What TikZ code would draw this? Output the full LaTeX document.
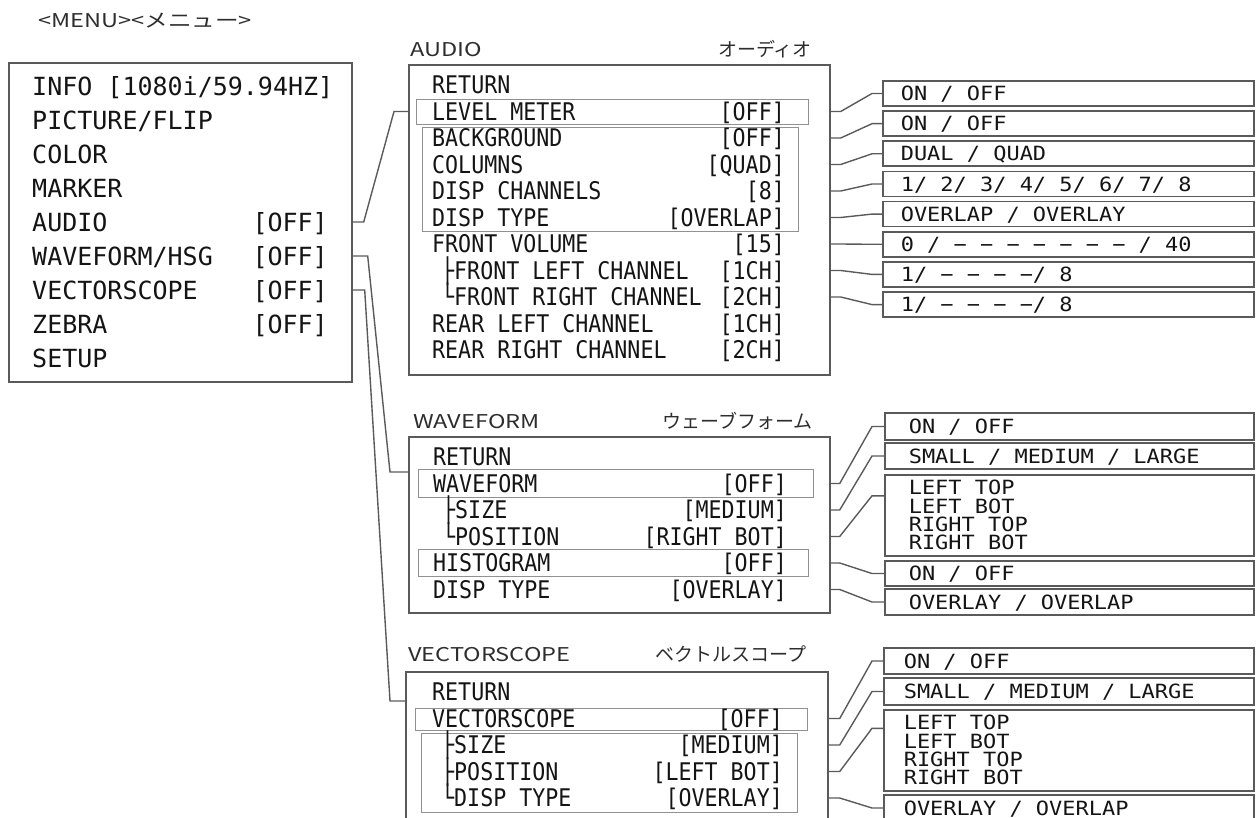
\documentclass[tikz,border=0pt]{standalone}
\usepackage{fontspec}
\setmainfont{Noto Sans CJK JP}
\newfontfamily\titlewide[FakeStretch=1.24]{Noto Sans CJK JP}
\newfontfamily\osdfont{DejaVu Sans Mono}
\newfontfamily\osdnarrow[FakeStretch=0.89]{DejaVu Sans Mono}
\newfontfamily\osdwide[FakeStretch=1.12]{DejaVu Sans Mono}
\usetikzlibrary{positioning, calc}
\definecolor{framegray}{RGB}{90,90,90}
\definecolor{markgray}{RGB}{145,145,145}
\definecolor{inkcolor}{RGB}{20,20,20}
\definecolor{titlecolor}{RGB}{45,45,45}
\tikzset{
  panel/.style    = {draw=framegray, line width=1.7pt, inner sep=0pt, anchor=north west},
  hlframe/.style  = {draw=markgray, line width=1.2pt, inner sep=0pt, anchor=north west},
  mainrow/.style  = {font=\osdfont\fontsize{25}{30}\selectfont, text=inkcolor, inner sep=0pt,
                     text height=18.2pt, text depth=0pt, anchor=west},
  subrow/.style   = {font=\osdnarrow\fontsize{24.3}{29}\selectfont, text=inkcolor, inner sep=0pt,
                     text height=17.7pt, text depth=0pt, anchor=west},
  optbox/.style   = {draw=framegray, line width=1.6pt, anchor=west, align=flush left, inner ysep=0pt,
                     font=\osdwide\fontsize{19.6}{18.3}\selectfont, text=inkcolor,
                     text height=14.3pt, text depth=0pt},
  optblock/.style = {draw=framegray, line width=1.6pt, anchor=north west, align=flush left, inner ysep=0pt,
                     font=\osdwide\fontsize{19.6}{18.3}\selectfont, text=inkcolor},
  title/.style    = {font=\fontsize{19}{23}\selectfont, text=titlecolor, inner sep=0pt,
                     text height=13.9pt, text depth=0pt},
  wtitle/.style   = {title, font=\titlewide\fontsize{19}{23}\selectfont},
  link/.style     = {draw=framegray, line width=1.4pt},
}

\begin{document}
\begin{tikzpicture}[x=1pt, y=-1pt]
  \useasboundingbox (0,0) rectangle (1257,818);
  \clip (0,0) rectangle (1257,818);

  % main menu
  \node[wtitle, anchor=west] (menutitle) at (38,21) {<MENU><メニュー>};
  \node[panel, minimum width=343pt, minimum height=319pt] (menu) at (8,62) {};
  \node[mainrow] (m1) at (32,86)  {INFO [1080i/59.94HZ]};
  \node[mainrow] (m2) at (32,120) {PICTURE/FLIP};
  \node[mainrow] (m3) at (32,154) {COLOR};
  \node[mainrow] (m4) at (32,188) {MARKER};
  \node[mainrow] (m5) at (32,222) {AUDIO};
  \node[mainrow] (m6) at (32,256) {WAVEFORM/HSG};
  \node[mainrow] (m7) at (32,290) {VECTORSCOPE};
  \node[mainrow] (m8) at (32,324) {ZEBRA};
  \node[mainrow] (m9) at (32,358) {SETUP};
  \node[mainrow, anchor=east] (mv5) at (328,222) {[OFF]};
  \node[mainrow, anchor=east] (mv6) at (328,256) {[OFF]};
  \node[mainrow, anchor=east] (mv7) at (328,290) {[OFF]};
  \node[mainrow, anchor=east] (mv8) at (328,324) {[OFF]};

  % audio
  \node[wtitle, anchor=west] (audiotitle) at (410,50) {AUDIO};
  \node[title, anchor=east] (audiojp) at (812,50) {オーディオ};
  \node[panel, minimum width=421pt, minimum height=310pt] (audio) at (408,64) {};
  \node[hlframe, minimum width=392pt, minimum height=25pt] (ahl1) at (416,99) {};
  \node[hlframe, minimum width=376pt, minimum height=104pt] (ahl2) at (422,127) {};
  \node[subrow] (a1)  at (432,85)    {RETURN};
  \node[subrow] (a2)  at (432,111.5) {LEVEL METER};
  \node[subrow] (a3)  at (432,138)   {BACKGROUND};
  \node[subrow] (a4)  at (432,164.5) {COLUMNS};
  \node[subrow] (a5)  at (432,191)   {DISP CHANNELS};
  \node[subrow] (a6)  at (432,217.5) {DISP TYPE};
  \node[subrow] (a7)  at (432,244)   {FRONT VOLUME};
  \node[subrow] (a8)  at (441,270.5) {├FRONT LEFT CHANNEL};
  \node[subrow] (a9)  at (441,297)   {└FRONT RIGHT CHANNEL};
  \node[subrow] (a10) at (432,323.5) {REAR LEFT CHANNEL};
  \node[subrow] (a11) at (432,350)   {REAR RIGHT CHANNEL};
  \node[subrow, anchor=east] (av2)  at (785,111.5) {[OFF]};
  \node[subrow, anchor=east] (av3)  at (785,138)   {[OFF]};
  \node[subrow, anchor=east] (av4)  at (785,164.5) {[QUAD]};
  \node[subrow, anchor=east] (av5)  at (785,191)   {[8]};
  \node[subrow, anchor=east] (av6)  at (785,217.5) {[OVERLAP]};
  \node[subrow, anchor=east] (av7)  at (785,244)   {[15]};
  \node[subrow, anchor=east] (av8)  at (785,270.5) {[1CH]};
  \node[subrow, anchor=east] (av9)  at (785,297)   {[2CH]};
  \node[subrow, anchor=east] (av10) at (785,323.5) {[1CH]};
  \node[subrow, anchor=east] (av11) at (785,350)   {[2CH]};

  \begin{scope}[optbox/.append style={inner xsep=18pt, text width=335pt, minimum height=25pt}]
    \node[optbox] (ao1) at (882,93.5)  {ON / OFF};
    \node[optbox] (ao2) at (882,123.7) {ON / OFF};
    \node[optbox] (ao3) at (882,153.8) {DUAL / QUAD};
    \node[optbox] (ao4) at (882,184)   {1/ 2/ 3/ 4/ 5/ 6/ 7/ 8};
    \node[optbox] (ao5) at (882,214.1) {OVERLAP / OVERLAY};
    \node[optbox] (ao6) at (882,244.3) {0 / − − − − − − − / 40};
    \node[optbox] (ao7) at (882,274.4) {1/ − − − −/ 8};
    \node[optbox] (ao8) at (882,304.6) {1/ − − − −/ 8};
  \end{scope}

  \foreach \row/\opt in {av2/ao1, av3/ao2, av4/ao3, av5/ao4, av6/ao5, av7/ao6, av8/ao7, av9/ao8}
    \draw[link] (audio.east |- \row) -- ++(10,0) -- ([xshift=-10pt]\opt.west) -- (\opt.west);

  % waveform
  \node[wtitle, anchor=west] (wavetitle) at (413,422) {WAVEFORM};
  \node[title, anchor=east] (wavejp) at (813,422) {ウェーブフォーム};
  \node[panel, minimum width=421pt, minimum height=176pt] (wave) at (408,436) {};
  \node[hlframe, minimum width=395pt, minimum height=28pt] (whl1) at (418,469) {};
  \node[hlframe, minimum width=390pt, minimum height=27pt] (whl2) at (418,549) {};
  \node[subrow] (w1) at (433,457)   {RETURN};
  \node[subrow] (w2) at (433,483.5) {WAVEFORM};
  \node[subrow] (w3) at (442,510)   {├SIZE};
  \node[subrow] (w4) at (442,536.5) {└POSITION};
  \node[subrow] (w5) at (433,563)   {HISTOGRAM};
  \node[subrow] (w6) at (433,589.5) {DISP TYPE};
  \node[subrow, anchor=east] (wv2) at (787,483.5) {[OFF]};
  \node[subrow, anchor=east] (wv3) at (787,510)   {[MEDIUM]};
  \node[subrow, anchor=east] (wv4) at (787,536.5) {[RIGHT BOT]};
  \node[subrow, anchor=east] (wv5) at (787,563)   {[OFF]};
  \node[subrow, anchor=east] (wv6) at (787,589.5) {[OVERLAY]};

  \begin{scope}[optbox/.append style={inner xsep=24pt, text width=321pt},
                optblock/.append style={inner xsep=24pt, text width=321pt}]
    \node[optbox, minimum height=27pt] (wo1) at (884,426.5) {ON / OFF};
    \node[optbox, minimum height=26pt] (wo2) at (884,456)   {SMALL / MEDIUM / LARGE};
    \node[optblock, minimum height=81pt] (wo3) at (884,474) {LEFT TOP\\LEFT BOT\\RIGHT TOP\\RIGHT BOT};
    \node[optbox, minimum height=25pt] (wo4) at (884,573.5) {ON / OFF};
    \node[optbox, minimum height=26pt] (wo5) at (884,602)   {OVERLAY / OVERLAP};
  \end{scope}

  \coordinate (wo3in) at ([yshift=19.5pt]wo3.west);
  \foreach \row/\opt in {wv2/wo1.west, wv3/wo2.west, wv4/wo3in, wv5/wo4.west, wv6/wo5.west}
    \draw[link] (wave.east |- \row) -- ++(9,0) -- ([xshift=-12pt]\opt) -- (\opt);

  % vectorscope
  \node[wtitle, anchor=west] (vectortitle) at (408,655) {VECTORSCOPE};
  \node[title, anchor=east] (vectorjp) at (807,655) {ベクトルスコープ};
  \node[panel, minimum width=422pt, minimum height=200pt] (vector) at (405,671) {};
  \node[hlframe, minimum width=392pt, minimum height=22pt] (vhl1) at (415,708) {};
  \node[hlframe, minimum width=376pt, minimum height=79pt] (vhl2) at (421,733) {};
  \node[subrow] (v1) at (432,692)   {RETURN};
  \node[subrow] (v2) at (432,718.5) {VECTORSCOPE};
  \node[subrow] (v3) at (441,745)   {├SIZE};
  \node[subrow] (v4) at (441,771.5) {├POSITION};
  \node[subrow] (v5) at (441,798)   {└DISP TYPE};
  \node[subrow, anchor=east] (vv2) at (783,718.5) {[OFF]};
  \node[subrow, anchor=east] (vv3) at (783,745)   {[MEDIUM]};
  \node[subrow, anchor=east] (vv4) at (783,771.5) {[LEFT BOT]};
  \node[subrow, anchor=east] (vv5) at (783,798)   {[OVERLAY]};

  \begin{scope}[optbox/.append style={inner xsep=20pt, text width=330pt},
                optblock/.append style={inner xsep=20pt, text width=330pt}]
    \node[optbox, minimum height=26pt] (vo1) at (883,661)   {ON / OFF};
    \node[optbox, minimum height=27pt] (vo2) at (883,691.5) {SMALL / MEDIUM / LARGE};
    \node[optblock, minimum height=81pt] (vo3) at (883,709) {LEFT TOP\\LEFT BOT\\RIGHT TOP\\RIGHT BOT};
    \node[optbox, minimum height=26pt] (vo4) at (883,808)   {OVERLAY / OVERLAP};
  \end{scope}

  \coordinate (vo3in) at ([yshift=22pt]vo3.west);
  \foreach \row/\opt in {vv2/vo1.west, vv3/vo2.west, vv4/vo3in, vv5/vo4.west}
    \draw[link] (vector.east |- \row) -- ++(11,0) -- ([xshift=-11pt]\opt) -- (\opt);

  % menu to sub menus
  \coordinate (wavein) at ([yshift=-3pt]wave.west |- whl1.north);
  \coordinate (vectorin) at ([yshift=7pt]vector.west |- vhl1.north);
  \draw[link] (menu.east |- m5) -- ++(11,0) -- ([xshift=-14pt]audio.west |- av2) -- (audio.west |- av2);
  \draw[link] (menu.east |- m6) -- ++(15,0) -- ([xshift=-18pt]wavein) -- (wavein);
  \draw[link] (menu.east |- m7) -- ++(12,0) -- ([xshift=-15pt]vectorin) -- (vectorin);
\end{tikzpicture}
\end{document}
